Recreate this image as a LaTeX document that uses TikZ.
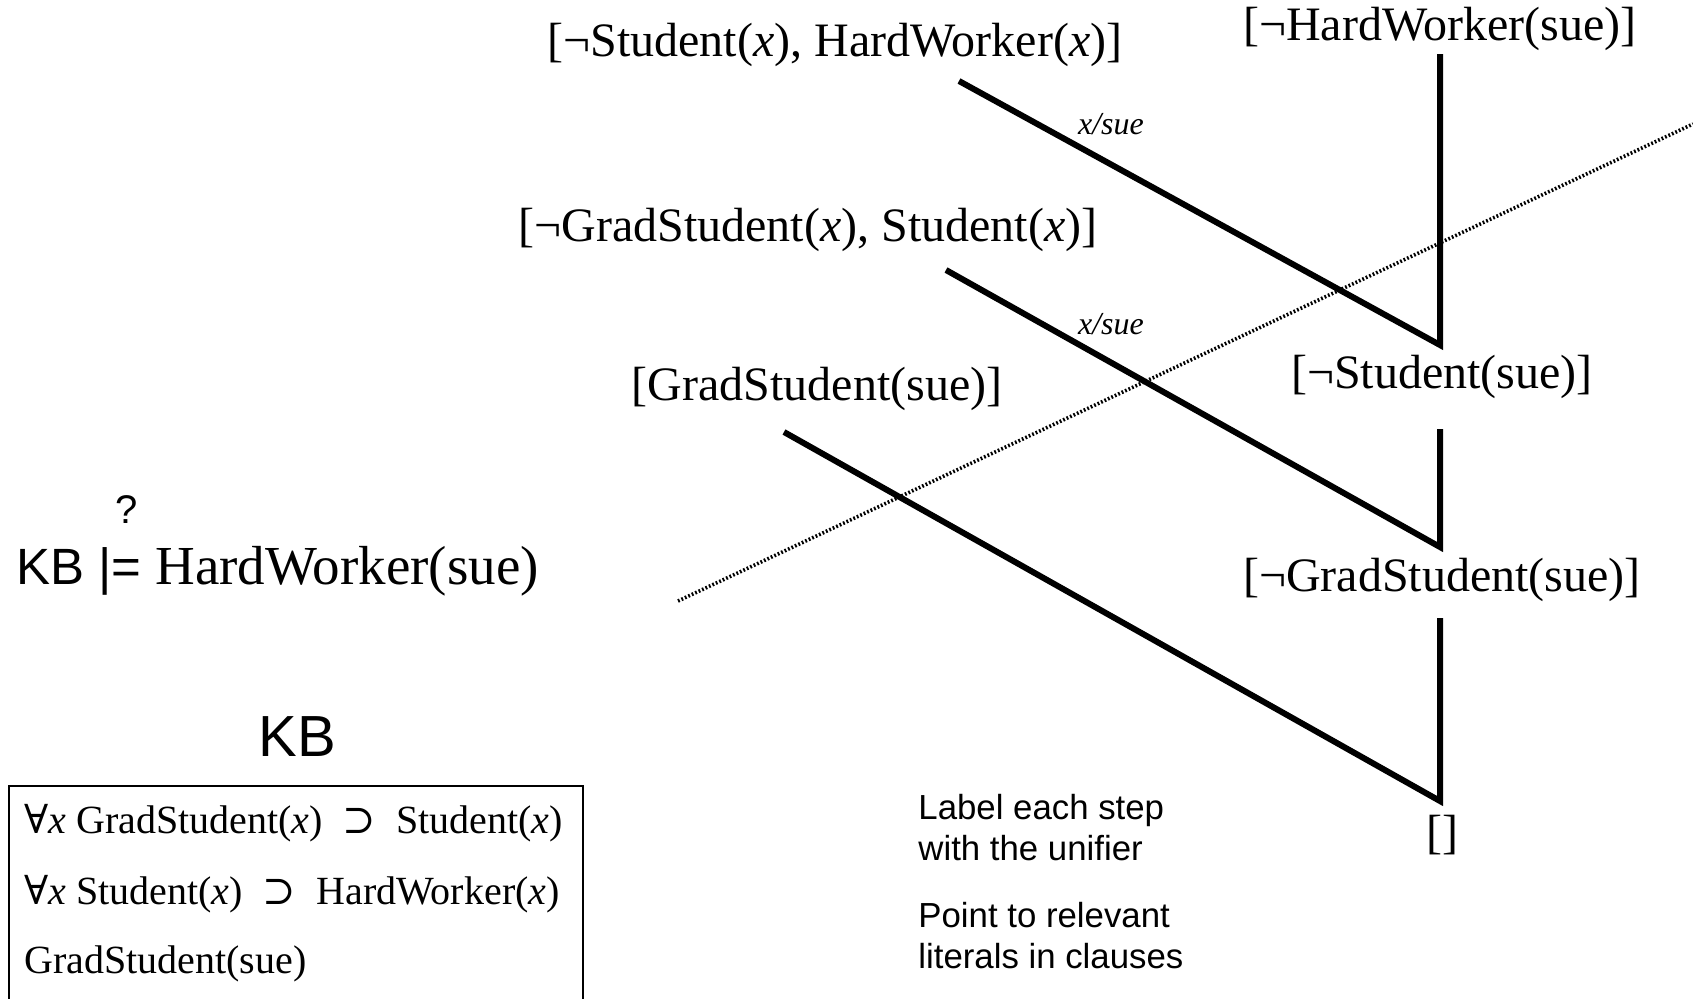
\documentclass[tikz,border=0pt]{standalone}
\usepackage{fontspec}
\setmainfont{Liberation Serif}
\setsansfont{Liberation Sans}
\newfontfamily\symfont{DejaVu Serif}
\begin{document}
\begin{tikzpicture}[x=0.5pt,y=-0.5pt,
  clause/.style={font=\fontsize{24}{28}\selectfont, inner sep=0pt},
  res/.style={line width=3pt, line join=miter},
  unif/.style={font=\fontsize{16}{19}\selectfont\itshape, inner sep=0pt},
  note/.style={font=\sffamily\fontsize{17.4}{20.5}\selectfont, align=left, anchor=west, inner sep=0pt},
  kbline/.style={font=\fontsize{20}{24}\selectfont, anchor=west, inner sep=0pt},
  focus/.style={line width=1.8pt, dash pattern=on 0.9pt off 1pt, black}]
\useasboundingbox (0,0) rectangle (1693,998);

% clauses
\node[clause] (c1) at (835,45) {[¬Student(\textit{x}), HardWorker(\textit{x})]};
\node[clause] (c0) at (1440,29) {[¬HardWorker(sue)]};
\node[clause] (c2) at (808,230) {[¬GradStudent(\textit{x}), Student(\textit{x})]};
\node[clause] (r1) at (1442,377) {[¬Student(sue)]};
\node[clause] (c3) at (817,389) {[GradStudent(sue)]};
\node[clause] (r2) at (1442,580) {[¬GradStudent(sue)]};
\node[clause] (r3) at (1442,835) {[]};

% resolution steps
\coordinate (s1) at (959,81);
\coordinate (j1) at (1440,345);
\coordinate (t1) at (1440,54);
\draw[res] (s1) -- (j1) -- (t1);

\coordinate (s2) at (946,270);
\coordinate (j2) at (1440,547);
\coordinate (t2) at (1440,429);
\draw[res] (s2) -- (j2) -- (t2);

\coordinate (s3) at (784,432);
\coordinate (j3) at (1440,801);
\coordinate (t3) at (1440,618);
\draw[res] (s3) -- (j3) -- (t3);

% unifiers
\node[unif] (u1) at (1111,124) {x/sue};
\node[unif] (u2) at (1111,324) {x/sue};

% dotted line
\coordinate (d1) at (678,601);
\coordinate (d2) at (1693,124);
\draw[focus] (d1) -- (d2);

% query
\node[anchor=west, inner sep=0pt] (q) at (16,571)
  {\sffamily\fontsize{25.5}{30}\selectfont KB |=\rmfamily\fontsize{27.5}{32}\selectfont\ HardWorker(sue)};
\node[font=\sffamily\fontsize{20}{24}\selectfont, inner sep=0pt] (qm) at (127,510) {?};

% KB
\node[font=\sffamily\fontsize{29}{34}\selectfont, inner sep=0pt] (kbt) at (297,737) {KB};
\draw[line width=1pt] (9,1010) -- (9,786) -- (583,786) -- (583,1010);
\node[kbline] (k1) at (24,823) {{\symfont ∀}\textit{x} GradStudent(\textit{x}) \ {\symfont ⊃}\ \ Student(\textit{x})};
\node[kbline] (k2) at (24,894) {{\symfont ∀}\textit{x} Student(\textit{x}) \ {\symfont ⊃}\ \ HardWorker(\textit{x})};
\node[kbline] (k3) at (24,964) {GradStudent(sue)};

% notes
\node[note] (n1) at (918,828) {Label each step\\with the unifier};
\node[note] (n2) at (918,936) {Point to relevant\\literals in clauses};
\end{tikzpicture}
\end{document}
